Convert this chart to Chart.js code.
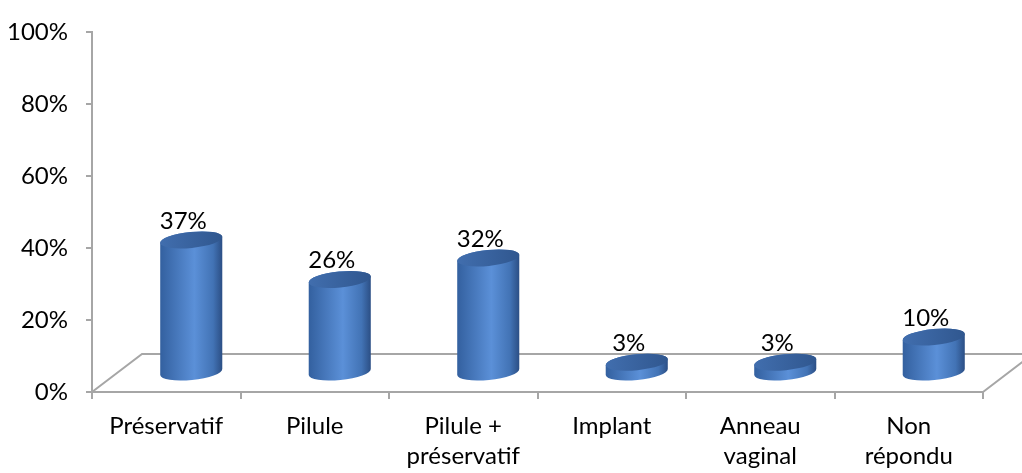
<!DOCTYPE html>
<html>
<head>
<meta charset="utf-8">
<script src="https://cdn.jsdelivr.net/npm/chart.js@4.4.0/dist/chart.umd.min.js"></script>
<style>
  html, body { margin: 0; padding: 0; background: #fff; }
  #wrap { width: 1022px; height: 473px; }
</style>
</head>
<body>
<div id="wrap"><canvas id="chart" width="1022" height="473"></canvas></div>
<script>
const categories = ['Préservatif', 'Pilule', ['Pilule +', 'préservatif'], 'Implant', ['Anneau', 'vaginal'], ['Non', 'répondu']];
const values = [37, 26, 32, 3, 3, 10];
const yTickValues = [0, 20, 40, 60, 80, 100];

// fausse profondeur 3D (plan arrière du sol)
const depthX = 50;
const depthY = -38;
const axisGrey = '#a6a6a6';
const fontFamily = 'Lato, "Open Sans", sans-serif';

const floorPlugin = {
    id: 'floor3d',
    beforeDatasetsDraw(chart) {
        const { ctx, chartArea } = chart;
        const l = chartArea.left, r = chartArea.right, b = chartArea.bottom;
        ctx.save();
        ctx.strokeStyle = axisGrey;
        ctx.lineWidth = 2;
        ctx.beginPath();
        ctx.moveTo(l, b);
        ctx.lineTo(l + depthX, b + depthY);
        ctx.lineTo(r + depthX, b + depthY);
        ctx.moveTo(r, b);
        ctx.lineTo(r + depthX, b + depthY);
        ctx.stroke();
        ctx.restore();
    }
};

const cylinderPlugin = {
    id: 'cylinders',
    afterDatasetsDraw(chart) {
        const { ctx } = chart;
        const meta = chart.getDatasetMeta(0);
        ctx.save();
        meta.data.forEach((bar, i) => {
            const cx = bar.x + depthX / 2;
            const top = bar.y + depthY / 2;
            const bottom = bar.base + depthY / 2;
            const rx = bar.width / 2;
            const ry = 8;
            const rot = -0.1;

            const grad = ctx.createLinearGradient(cx - rx, 0, cx + rx, 0);
            grad.addColorStop(0, '#33609f');
            grad.addColorStop(0.55, '#5b90d8');
            grad.addColorStop(0.85, '#4273b5');
            grad.addColorStop(1, '#2b4e84');

            // corps : moitié haute de l'ellipse du haut + moitié basse de celle du bas
            ctx.fillStyle = grad;
            ctx.beginPath();
            ctx.ellipse(cx, top, rx, ry, rot, Math.PI, Math.PI * 2, false);
            ctx.ellipse(cx, bottom, rx, ry, rot, 0, Math.PI, false);
            ctx.closePath();
            ctx.fill();

            // ellipse du haut
            const topGrad = ctx.createLinearGradient(cx - rx, top, cx + rx, top);
            topGrad.addColorStop(0, '#416eae');
            topGrad.addColorStop(1, '#30578f');
            ctx.fillStyle = topGrad;
            ctx.beginPath();
            ctx.ellipse(cx, top, rx, ry, rot, 0, Math.PI * 2);
            ctx.fill();

            // étiquette de valeur
            ctx.font = '24px ' + fontFamily;
            ctx.fillStyle = '#000';
            ctx.textAlign = 'center';
            ctx.textBaseline = 'bottom';
            ctx.fillText(values[i] + '%', cx - 8, top - ry + 1);
        });
        ctx.restore();
    }
};

new Chart(document.getElementById('chart').getContext('2d'), {
    type: 'bar',
    data: {
        labels: categories,
        datasets: [{
            data: values,
            backgroundColor: 'rgba(0,0,0,0)',
            borderWidth: 0,
            categoryPercentage: 1,
            barPercentage: 0.42
        }]
    },
    options: {
        responsive: false,
        animation: false,
        layout: { padding: { top: 25, right: 39, left: 0, bottom: 0 } },
        plugins: {
            legend: { display: false },
            tooltip: { enabled: false }
        },
        scales: {
            x: {
                offset: true,
                grid: { offset: true, drawOnChartArea: false, color: axisGrey, lineWidth: 2, tickLength: 7 },
                border: { color: axisGrey, width: 2 },
                ticks: { color: '#000', font: { family: fontFamily, size: 24, lineHeight: 1.25 }, padding: 12, maxRotation: 0, autoSkip: false },
                afterFit: s => { s.height = 81; }
            },
            y: {
                min: 0,
                max: 100,
                afterBuildTicks: s => { s.ticks = yTickValues.map(v => ({ value: v })); },
                grid: { drawOnChartArea: false, color: axisGrey, lineWidth: 2, tickLength: 6 },
                border: { color: axisGrey, width: 2 },
                ticks: { color: '#000', font: { family: fontFamily, size: 24 }, padding: 18, callback: v => v + '%' },
                afterFit: s => { s.width = 92; }
            }
        }
    },
    plugins: [floorPlugin, cylinderPlugin]
});
</script>
</body>
</html>
